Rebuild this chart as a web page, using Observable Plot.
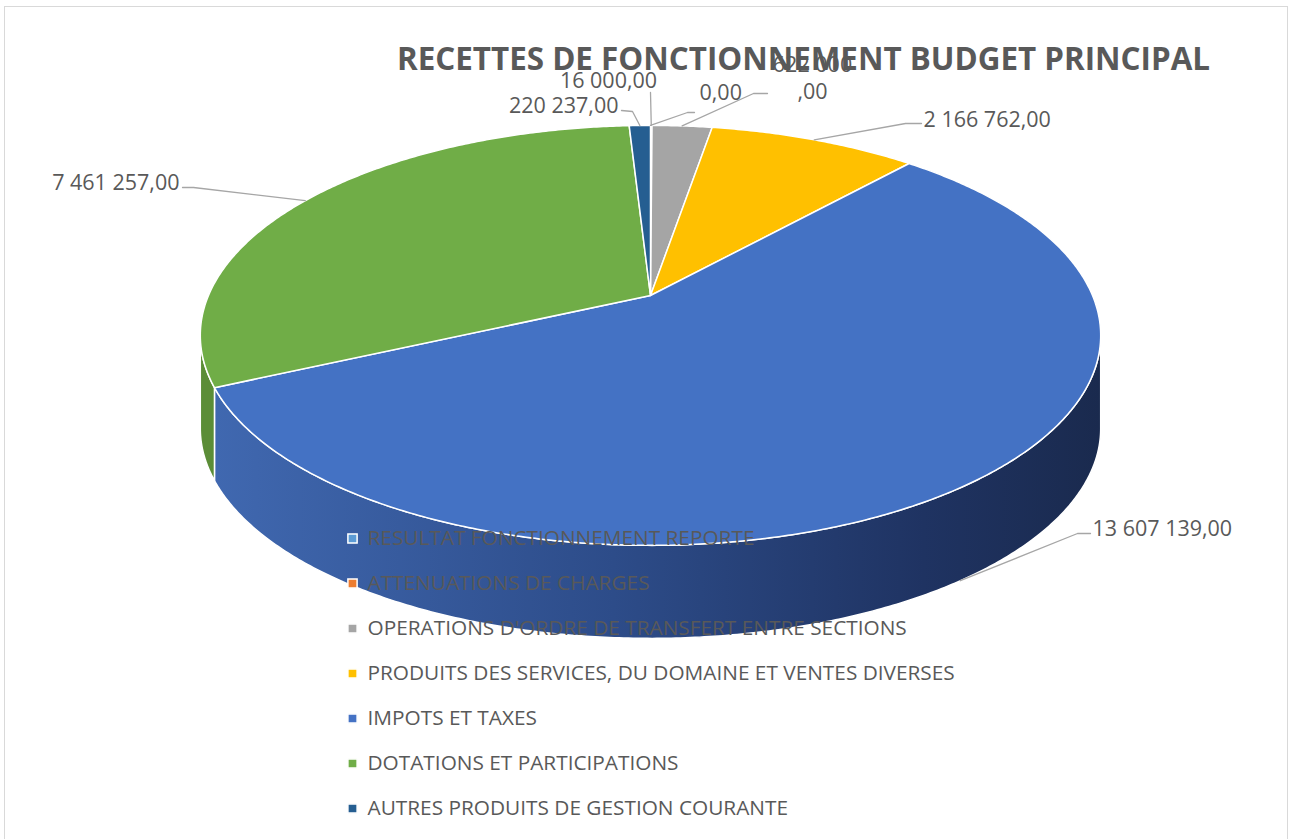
<!DOCTYPE html>
<html><head><meta charset="utf-8">
<script src="https://cdn.jsdelivr.net/npm/d3@7"></script>
<script src="https://cdn.jsdelivr.net/npm/@observablehq/plot@0.6"></script>
<style>
html,body{margin:0;padding:0;background:#fff;}
#frame{position:absolute;left:4px;top:6px;width:1284px;height:840px;border:1.5px solid #d9d9d9;box-sizing:border-box;}
#chart{position:absolute;left:0;top:0;}
</style></head><body>
<div id="frame"></div><div id="chart"></div>
<script>
// ---- data ----
const title = "RECETTES DE FONCTIONNEMENT BUDGET PRINCIPAL";
const categories = [
  "RESULTAT FONCTIONNEMENT REPORTE",
  "ATTENUATIONS DE CHARGES",
  "OPERATIONS D'ORDRE DE TRANSFERT ENTRE SECTIONS",
  "PRODUITS DES SERVICES, DU DOMAINE ET VENTES DIVERSES",
  "IMPOTS ET TAXES",
  "DOTATIONS ET PARTICIPATIONS",
  "AUTRES PRODUITS DE GESTION COURANTE"
];
const values = [0, 16000, 622000, 2166762, 13607139, 7461257, 220237];
const colors = ["#5B9BD5", "#ED7D31", "#A5A5A5", "#FFC000", "#4472C4", "#70AD47", "#255E91"];
const sideColors = ["#4a7fb0", "#b85e22", "#7f7f7f", "#c89600", "url(#sideBlue)", "#5b8d37", "#1c4670"];

// ---- layout (positions, sizes, styles) ----
const W = 1293, H = 839;
const geom = {cx: 650, cy: 295, A: 442, B: 202.4, k: 0.19, depth: 93};
const labelLayout = [
  {tx: 699, ty: 91, anchor: "start", path: [[687, 112], [694, 112]]},
  {tx: 608, ty: 79, anchor: "middle", path: [[650, 92]]},
  {tx: 812, ty: 76, anchor: "middle", path: [[753, 93], [767, 93]], wrap: true},
  {tx: 923, ty: 118, anchor: "start", path: [[905, 123], [921, 123]]},
  {tx: 1092, ty: 527, anchor: "start", path: [[1077, 533], [1090, 533]], side: true},
  {tx: 179, ty: 181, anchor: "end", path: [[193, 187], [182, 187]]},
  {tx: 618, ty: 104, anchor: "end", path: [[632, 111], [621, 110]]}
];
const legend = {x: 352, tx: 367, y0: 538, step: 45};
const textColor = "#595959";

const fr = d3.formatLocale({decimal: ",", thousands: "\u00a0", grouping: [3]}).format(",.2f");

function proj(deg) {
  const t = deg * Math.PI / 180, s = Math.sin(t), c = Math.cos(t);
  const den = 1 + geom.k * c;
  return [geom.cx + geom.A * s / den, geom.cy - geom.B * c / den];
}

const total = d3.sum(values);
let acc = 0;
const slices = values.map((v, i) => {
  const a0 = acc / total * 360; acc += v; const a1 = acc / total * 360;
  return {i, v, a0, a1, mid: (a0 + a1) / 2};
});

function arcPts(a0, a1) {
  const n = Math.max(1, Math.ceil((a1 - a0) / 0.5));
  return d3.range(n + 1).map(j => proj(a0 + (a1 - a0) * j / n));
}

const thR = Math.acos(-geom.k) * 180 / Math.PI, thL = 360 - thR;

const topPts = [], sidePts = [];
for (const s of slices) {
  if (s.v <= 0) continue;
  const rim = arcPts(s.a0, s.a1);
  [[geom.cx, geom.cy], ...rim].forEach(([x, y]) => topPts.push({id: s.i, x, y, fill: colors[s.i]}));
  const lo = Math.max(s.a0, thR), hi = Math.min(s.a1, thL);
  if (lo < hi) {
    const r = arcPts(lo, hi);
    r.forEach(([x, y]) => sidePts.push({id: s.i, x, y, fill: sideColors[s.i]}));
    r.slice().reverse().forEach(([x, y]) => sidePts.push({id: s.i, x, y: y + geom.depth, fill: sideColors[s.i]}));
  }
}

const leaderPts = [], labels = [];
slices.forEach((s, i) => {
  const L = labelLayout[i];
  let [x0, y0] = proj(s.mid);
  if (L.side) y0 += geom.depth;
  [[x0, y0], ...L.path].forEach(([x, y]) => leaderPts.push({id: i, x, y}));
  let t = fr(values[i]);
  if (L.wrap) t = t.replace(",", "\n,");
  labels.push({x: L.tx, y: L.ty, text: t, anchor: L.anchor});
});

const legendData = categories.map((c, i) => ({name: c, color: colors[i], y: legend.y0 + i * legend.step}));

const textMark = anchor => Plot.text(labels.filter(d => d.anchor === anchor), {
  x: "x", y: "y", text: "text", textAnchor: anchor, fill: textColor, fontSize: 21.5, lineHeight: 1.25
});

const svg = Plot.plot({
  width: W, height: H, margin: 0,
  style: {fontFamily: "'Open Sans', sans-serif", background: "transparent"},
  x: {domain: [0, W], range: [0, W], axis: null},
  y: {domain: [0, H], range: [0, H], axis: null},
  color: {type: "identity"},
  marks: [
    Plot.line(sidePts, {x: "x", y: "y", z: "id", fill: d => d.fill, stroke: "white", strokeWidth: 1.5, curve: "linear-closed"}),
    Plot.line(topPts, {x: "x", y: "y", z: "id", fill: d => d.fill, stroke: "white", strokeWidth: 1.5, strokeLinejoin: "round", curve: "linear-closed"}),
    Plot.text([title], {x: () => 803, y: () => 59, text: d => d, fontSize: 32, fontWeight: "bold", fill: textColor}),
    Plot.dot(legendData, {x: () => legend.x, y: "y", symbol: "square", r: 5.2, fill: "color", stroke: "white", strokeWidth: 1.5}),
    Plot.text(legendData, {x: () => legend.tx, y: "y", text: "name", textAnchor: "start", fill: textColor, fontSize: 20.8}),
    Plot.line(leaderPts, {x: "x", y: "y", z: "id", stroke: "#a6a6a6", strokeWidth: 1.3}),
    textMark("start"), textMark("middle"), textMark("end")
  ]
});

d3.select(svg).insert("defs", ":first-child").html(`
  <linearGradient id="sideBlue" x1="0" y1="0" x2="1" y2="0">
    <stop offset="0" stop-color="#4068b0"/>
    <stop offset="0.45" stop-color="#2d4c89"/>
    <stop offset="0.8" stop-color="#1f3362"/>
    <stop offset="1" stop-color="#1a2a4e"/>
  </linearGradient>`);
document.getElementById("chart").appendChild(svg);

// fit title width (Calibri-like narrow look)
d3.select(svg).selectAll("text").filter(function() { return this.textContent === title; })
  .attr("textLength", 813).attr("lengthAdjust", "spacingAndGlyphs");
</script>
</body></html>
